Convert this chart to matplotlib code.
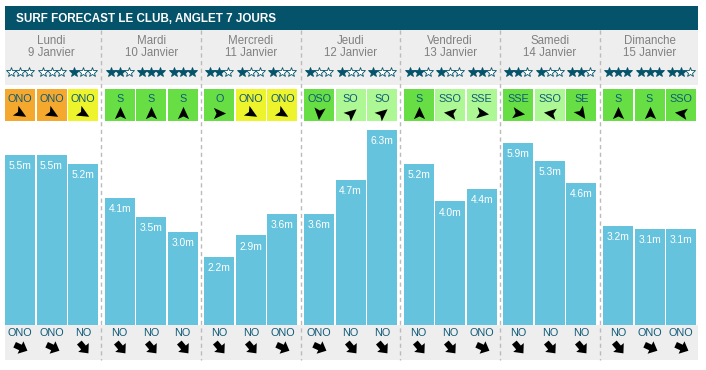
import matplotlib
matplotlib.use('Agg')
import matplotlib.pyplot as plt
from matplotlib.path import Path
from matplotlib.markers import MarkerStyle
from matplotlib.transforms import Affine2D
from matplotlib.patches import Rectangle

plt.rcParams['font.family'] = ['Liberation Sans', 'DejaVu Sans']

# Données
title = "SURF FORECAST LE CLUB, ANGLET 7 JOURS"
days = ['Lundi', 'Mardi', 'Mercredi', 'Jeudi', 'Vendredi', 'Samedi', 'Dimanche']
dates = ['9 Janvier', '10 Janvier', '11 Janvier', '12 Janvier',
         '13 Janvier', '14 Janvier', '15 Janvier']
heights = [5.5, 5.5, 5.2, 4.1, 3.5, 3.0, 2.2, 2.9, 3.6, 3.6, 4.7, 6.3,
           5.2, 4.0, 4.4, 5.9, 5.3, 4.6, 3.2, 3.1, 3.1]
stars = [0, 0, 1, 2, 3, 3, 2, 1, 1, 1, 1, 1, 2, 1, 2, 2, 1, 2, 3, 3, 2]
wind_dir = ['ONO', 'ONO', 'ONO', 'S', 'S', 'S', 'O', 'ONO', 'ONO',
            'OSO', 'SO', 'SO', 'S', 'SSO', 'SSE', 'SSE', 'SSO', 'SE',
            'S', 'S', 'SSO']
wind_quality = ['bad', 'bad', 'poor', 'good', 'good', 'good', 'good', 'poor', 'poor',
                'good', 'ok', 'ok', 'good', 'ok', 'ok', 'good', 'ok', 'good',
                'good', 'good', 'good']
swell_dir = ['ONO', 'ONO', 'NO', 'NO', 'NO', 'NO', 'NO', 'NO', 'ONO',
             'ONO', 'NO', 'NO', 'NO', 'NO', 'ONO', 'NO', 'NO', 'NO',
             'NO', 'ONO', 'ONO']

# Couleurs
quality_colors = {'bad': '#f5a82e', 'poor': '#eef42c', 'good': '#66de44', 'ok': '#adf794'}
bar_color = '#66c3de'
dark = '#04536a'
grey_bg = '#eeeeee'
text_blue = '#0f5a78'

# angles d'affichage des flèches (écran, 0 = droite)
wind_angle = {'S': 90, 'O': 0, 'ONO': -30, 'OSO': -95, 'SO': 40,
              'SSO': 172, 'SSE': -8, 'SE': -55}
swell_angle = {'ONO': -25, 'NO': -50}

# formes des flèches
nav_arrow = Path([(1, 0), (-0.85, 0.85), (-0.45, 0), (-0.85, -0.85), (1, 0)],
                 [Path.MOVETO, Path.LINETO, Path.LINETO, Path.LINETO, Path.CLOSEPOLY])
fat_arrow = Path([(1, 0), (0.0, 0.9), (0.0, 0.4), (-0.85, 0.4), (-0.85, -0.4),
                  (0.0, -0.4), (0.0, -0.9), (1, 0)],
                 [Path.MOVETO] + [Path.LINETO] * 6 + [Path.CLOSEPOLY])

# géométrie (pixels)
W, H = 706, 370
day_pitch = 99.67
slot_pitch = 31.5
bar_w = 30
left0 = 5

n = len(heights)
slot_left = [left0 + (k // 3) * day_pitch + (k % 3) * slot_pitch for k in range(n)]
slot_center = [x + bar_w / 2 for x in slot_left]

fig = plt.figure(figsize=(W / 100, H / 100), dpi=100)
fig.patch.set_facecolor('white')

deco = fig.add_axes([0, 0, 1, 1])
deco.set_xlim(0, W)
deco.set_ylim(H, 0)
deco.axis('off')

# bandeau titre
deco.add_patch(Rectangle((5, 6), 693, 24, color=dark, lw=0))
deco.text(16, 18.5, title, color='white', fontsize=8.4, fontweight='bold', va='center')

# bandes grises
deco.add_patch(Rectangle((5, 30), 693, 55, color=grey_bg, lw=0))
deco.add_patch(Rectangle((5, 325), 693, 35, color=grey_bg, lw=0))

# séparateurs
for d in range(1, len(days)):
    xs = left0 + d * day_pitch - 3.5
    deco.plot([xs, xs], [30, 360], color='#bbbbbb', lw=1, ls=(0, (3, 2.5)))

# jours
for d, (day, date) in enumerate(zip(days, dates)):
    cx = left0 + d * day_pitch + (2 * slot_pitch + bar_w) / 2
    deco.text(cx, 41.5, day, color='#808080', fontsize=8.3, ha='center', va='center')
    deco.text(cx, 53.5, date, color='#808080', fontsize=8.3, ha='center', va='center')

# étoiles
for k in range(n):
    for s in range(3):
        sx = slot_center[k] + (s - 1) * 9.0
        filled = s < stars[k]
        deco.plot(sx, 72, marker='*', ms=7.3, mew=0.6,
                  mfc=dark if filled else 'white', mec=dark)

# vent
for k in range(n):
    deco.add_patch(Rectangle((slot_left[k], 89), bar_w, 32,
                             color=quality_colors[wind_quality[k]], lw=0))
    deco.text(slot_center[k], 98.5, wind_dir[k], color=text_blue, fontsize=7.8,
              ha='center', va='center')
    m = MarkerStyle(nav_arrow, transform=Affine2D().rotate_deg(wind_angle[wind_dir[k]]))
    deco.plot(slot_center[k], 112.5, marker=m, ms=9.5, color='black', mew=0)

# houle
for k in range(n):
    deco.text(slot_center[k], 332.5, swell_dir[k], color=text_blue, fontsize=7.8,
              ha='center', va='center')
    m = MarkerStyle(fat_arrow, transform=Affine2D().rotate_deg(swell_angle[swell_dir[k]]))
    deco.plot(slot_center[k], 347, marker=m, ms=11, color='black', mew=0)

# barres
ax = fig.add_axes([0, (H - 325) / H, 1, (325 - 122) / H])
ax.set_xlim(0, W)
ax.set_ylim(0, 203 / 30.9)
ax.axis('off')
ax.patch.set_alpha(0)
ax.bar(slot_left, heights, width=bar_w, align='edge', color=bar_color, lw=0)
for x, h in zip(slot_center, heights):
    ax.annotate(f"{h:.1f}m", (x, h), xytext=(0, -8), textcoords='offset points',
                color='white', fontsize=7.4, ha='center', va='center')

fig.savefig('out.png', dpi=100)
